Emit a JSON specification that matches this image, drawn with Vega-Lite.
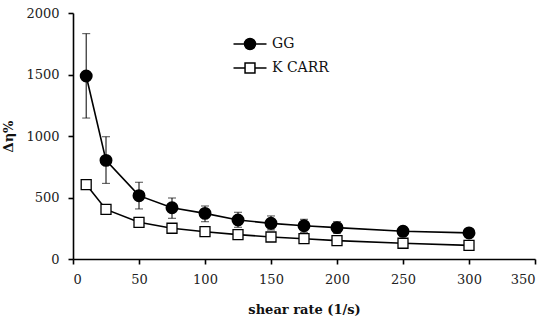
{
  "$schema": "https://vega.github.io/schema/vega-lite/v6.json",
  "autosize": "none",
  "width": 462,
  "height": 246,
  "padding": {"left": 73, "top": 13, "right": 15, "bottom": 63},
  "background": "white",
  "config": {
    "view": {"stroke": null},
    "font": "DejaVu Serif",
    "axis": {
      "grid": false,
      "domainColor": "black",
      "domainWidth": 1.6,
      "tickColor": "black",
      "tickWidth": 1.6,
      "tickSize": 5,
      "labelFont": "DejaVu Serif",
      "labelFontSize": 13,
      "labelColor": "#222",
      "titleFont": "DejaVu Serif",
      "titleFontSize": 13,
      "titleFontWeight": "bold",
      "titleColor": "#111"
    },
    "legend": {
      "labelFont": "DejaVu Serif",
      "labelFontSize": 14,
      "labelColor": "#111"
    }
  },
  "data": {
    "values": [
      {"rate": 10, "series": "GG", "value": 1488, "lo": 1146, "hi": 1832},
      {"rate": 25, "series": "GG", "value": 802, "lo": 615, "hi": 994},
      {"rate": 50, "series": "GG", "value": 515, "lo": 407, "hi": 624},
      {"rate": 75, "series": "GG", "value": 417, "lo": 331, "hi": 496},
      {"rate": 100, "series": "GG", "value": 371, "lo": 303, "hi": 431},
      {"rate": 125, "series": "GG", "value": 317, "lo": 258, "hi": 380},
      {"rate": 150, "series": "GG", "value": 290, "lo": 236, "hi": 350},
      {"rate": 175, "series": "GG", "value": 270, "lo": 217, "hi": 323},
      {"rate": 200, "series": "GG", "value": 255, "lo": 209, "hi": 303},
      {"rate": 250, "series": "GG", "value": 225, "lo": 187, "hi": 263},
      {"rate": 300, "series": "GG", "value": 212, "lo": 182, "hi": 241},
      {"rate": 10, "series": "K CARR", "value": 605, "lo": 575, "hi": 635},
      {"rate": 25, "series": "K CARR", "value": 403, "lo": null, "hi": null},
      {"rate": 50, "series": "K CARR", "value": 298, "lo": null, "hi": null},
      {"rate": 75, "series": "K CARR", "value": 250, "lo": null, "hi": null},
      {"rate": 100, "series": "K CARR", "value": 222, "lo": null, "hi": null},
      {"rate": 125, "series": "K CARR", "value": 198, "lo": null, "hi": null},
      {"rate": 150, "series": "K CARR", "value": 179, "lo": null, "hi": null},
      {"rate": 175, "series": "K CARR", "value": 165, "lo": null, "hi": null},
      {"rate": 200, "series": "K CARR", "value": 149, "lo": null, "hi": null},
      {"rate": 250, "series": "K CARR", "value": 128, "lo": null, "hi": null},
      {"rate": 300, "series": "K CARR", "value": 111, "lo": null, "hi": null}
    ]
  },
  "encoding": {
    "x": {
      "field": "rate", "type": "quantitative",
      "scale": {"domain": [0, 350], "nice": false},
      "axis": {"values": [0, 50, 100, 150, 200, 250, 300, 350], "format": "d", "labelPadding": 9, "title": "shear rate (1/s)", "titlePadding": 17}
    }
  },
  "layer": [
    {
      "transform": [{"filter": "datum.lo != null"}],
      "mark": {"type": "rule", "color": "black", "strokeWidth": 1},
      "encoding": {
        "y": {"field": "lo", "type": "quantitative"},
        "y2": {"field": "hi"}
      }
    },
    {
      "transform": [{"filter": "datum.lo != null"}],
      "mark": {"type": "tick", "orient": "horizontal", "color": "black", "size": 8, "thickness": 1},
      "encoding": {"y": {"field": "lo", "type": "quantitative"}}
    },
    {
      "transform": [{"filter": "datum.lo != null"}],
      "mark": {"type": "tick", "orient": "horizontal", "color": "black", "size": 8, "thickness": 1},
      "encoding": {"y": {"field": "hi", "type": "quantitative"}}
    },
    {
      "mark": {"type": "line", "color": "black", "strokeWidth": 1.6},
      "encoding": {
        "y": {
          "field": "value", "type": "quantitative",
          "scale": {"domain": [0, 2000], "nice": false},
          "axis": {"values": [0, 500, 1000, 1500, 2000], "format": "d", "labelPadding": 9, "title": "Δη%", "titlePadding": 10}
        },
        "detail": {"field": "series"}
      }
    },
    {
      "transform": [{"filter": "datum.series == 'GG'"}],
      "mark": {"type": "point", "shape": "circle", "filled": true, "fill": "black", "stroke": "black", "opacity": 1, "size": 120},
      "encoding": {"y": {"field": "value", "type": "quantitative"}}
    },
    {
      "transform": [{"filter": "datum.series == 'K CARR'"}],
      "mark": {"type": "point", "shape": "square", "filled": true, "fill": "white", "stroke": "black", "strokeWidth": 1.3, "opacity": 1, "size": 100},
      "encoding": {"y": {"field": "value", "type": "quantitative"}}
    },
    {
      "transform": [{"filter": "false"}],
      "mark": {"type": "point", "filled": true, "stroke": "black", "strokeWidth": 1.3, "opacity": 1},
      "encoding": {
        "shape": {
          "field": "series", "type": "nominal",
          "scale": {"domain": ["GG", "K CARR"], "range": [
            "M-1.5,0H-0.5M0.5,0H1.5M-0.5,0A0.5,0.5,0,1,1,0.5,0A0.5,0.5,0,1,1,-0.5,0Z",
            "M-1.5,0H-0.45M0.45,0H1.5M-0.45,-0.45H0.45V0.45H-0.45Z"
          ]},
          "legend": {
            "title": null, "orient": "none", "legendX": 165, "legendY": 19,
            "symbolSize": 484, "labelOffset": 10, "rowPadding": 3, "padding": 0,
            "encode": {"symbols": {"update": {"stroke": {"value": "black"}, "strokeWidth": {"value": 1.5}, "opacity": {"value": 1}}}}
          }
        },
        "fill": {
          "field": "series", "type": "nominal",
          "scale": {"domain": ["GG", "K CARR"], "range": ["black", "white"]},
          "legend": {
            "title": null, "orient": "none", "legendX": 165, "legendY": 19,
            "symbolSize": 484, "labelOffset": 10, "rowPadding": 3, "padding": 0,
            "encode": {"symbols": {"update": {"stroke": {"value": "black"}, "strokeWidth": {"value": 1.5}, "opacity": {"value": 1}}}}
          }
        }
      }
    }
  ]
}
